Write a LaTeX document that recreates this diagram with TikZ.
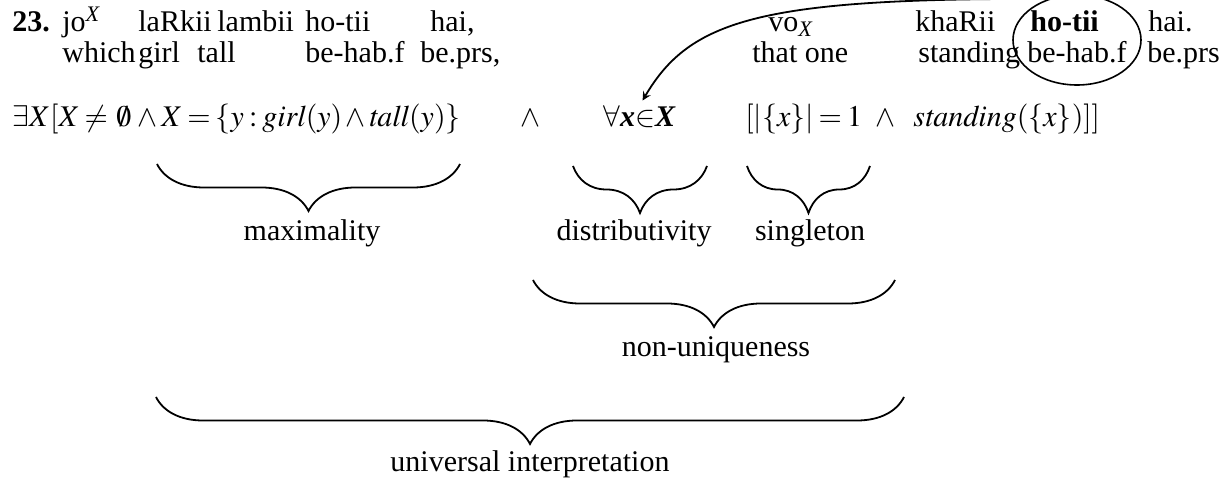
\documentclass[tikz,border=0pt]{standalone}
\usepackage{mathptmx}
\usepackage{fontspec}
\setmainfont{Liberation Serif}
\usetikzlibrary{arrows, positioning, calc, decorations.pathreplacing, shapes.geometric}
\tikzset{
  wd/.style={anchor=base west, inner sep=0pt, font=\fontsize{15}{18}\selectfont},
  lab/.style={anchor=base, inner sep=0pt, font=\fontsize{15}{18}\selectfont},
  brc/.style={decorate, decoration={brace, amplitude=23.5pt}, line width=0.9pt},
  tra/.style={->, >=stealth, line width=0.9pt, shorten >=3pt},
  ring/.style={ellipse, draw, line width=0.8pt, minimum width=64pt, minimum height=45pt, inner sep=0pt}
}
% tighter math spacing
\newcommand{\tightm}{\thickmuskip=3mu\relax\medmuskip=2mu\relax}
% word on line 1, gloss on line 2
\newcommand{\glpair}[5]{%
  \node[wd] (w#1) at (#2,32) {#3};
  \node[wd] (g#1) at (#4,63) {#5};}

\begin{document}
\begin{tikzpicture}[x=0.5pt, y=-0.5pt]
	\useasboundingbox (0,0) rectangle (1227,480);
	\node[wd] (num) at (12,32) {\textbf{23.}};
	\glpair{a}{62}{jo\textsuperscript{\textit{X}}}{62}{which}
	\glpair{b}{138}{laRkii}{138}{girl}
	\glpair{c}{217}{lambii}{197}{tall}
	\glpair{d}{305}{ho-tii}{305}{be-hab.f}
	\glpair{e}{430}{hai,}{420}{be.prs,}
	\glpair{f}{768}{vo\textsubscript{\textit{X}}}{752}{that one}
	\glpair{g}{915}{khaRii}{918}{standing}
	\glpair{h}{1030}{\textbf{ho-tii}}{1027}{be-hab.f}
	\glpair{i}{1148}{hai.}{1147}{be.prs}
	\node[ring] (el) at (1077,40) {};
	% formula
	\node[wd] (f1) at (12,127) {$\tightm\exists X[X\neq\,\emptyset\,\wedge X=\{y:\mathit{girl}(y)\wedge\mathit{tall}(y)\}$};
	\node[wd] (and1) at (520,127) {$\wedge$};
	\node[wd] (fa) at (603,127) {$\forall$\textbf{\textit{x}}$\in$\textbf{\textit{X}}};
	\node[wd] (f2) at (745,127) {$\tightm[|\{x\}|=1$};
	\node[wd] (and2) at (875,127) {$\wedge$};
	\node[wd] (f3) at (913,127) {$\mathit{standing}(\{x\})]]$};
	\draw[tra] (el.125) .. controls (760,-2) and (690,20) .. (fa.north);
	% braces
	\draw[brc] (460,164) -- (157,164);
	\draw[brc] (707,166) -- (573,166);
	\draw[brc] (870,166) -- (747,166);
	\draw[brc] (895,280) -- (533,280);
	\draw[brc] (904,397) -- (156,397);
	\node[lab] (lmax) at (312,241) {maximality};
	\node[lab] (ldis) at (634,241) {distributivity};
	\node[lab] (lsin) at (810,241) {singleton};
	\node[lab] (lnon) at (716,357) {non-uniqueness};
	\node[lab] (luni) at (530,472) {universal interpretation};
\end{tikzpicture}
\end{document}
